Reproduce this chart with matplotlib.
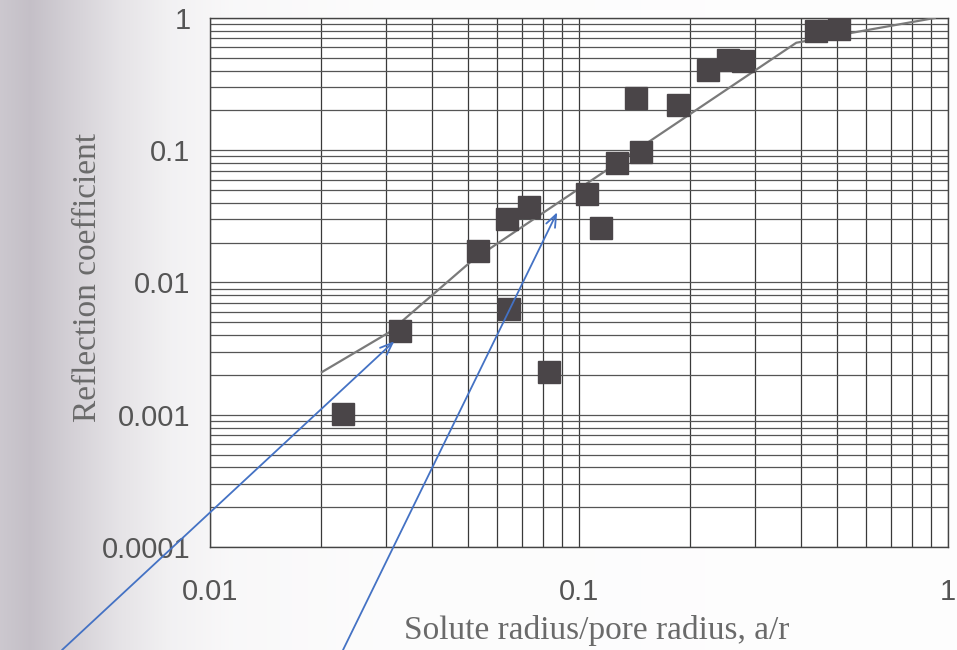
import numpy as np
import matplotlib
matplotlib.use("Agg")
import matplotlib.pyplot as plt
from matplotlib.ticker import LogLocator, NullFormatter, FixedLocator

ratio = [0.023, 0.0328, 0.0533, 0.0639, 0.0647, 0.0733, 0.083, 0.105, 0.115,
         0.127, 0.147, 0.1426, 0.185, 0.223, 0.253, 0.279, 0.44, 0.505]
refl = [0.00102, 0.0043, 0.0172, 0.030, 0.00635, 0.037, 0.0021, 0.047, 0.0257,
        0.080, 0.097, 0.248, 0.219, 0.404, 0.48, 0.47, 0.80, 0.825]

# fitted curve
fit_x = [0.0201, 0.0306, 0.0514, 0.388, 0.92]
fit_y = [0.0021, 0.0042, 0.0147, 0.65, 1.0]

# arrow tips (data) and tails (figure fraction)
tips = [(0.0316, 0.0036), (0.0873, 0.034)]
tails = [(62 / 957, 0.0), (343 / 957, 0.0)]

xticks = [0.01, 0.1, 1]
xtick_labels = ["0.01", "0.1", "1"]
yticks = [0.0001, 0.001, 0.01, 0.1, 1]
ytick_labels = ["0.0001", "0.001", "0.01", "0.1", "1"]

fig = plt.figure(figsize=(9.57, 6.5), dpi=100)

# scanned page shading on the left
bg = fig.add_axes([0, 0, 1, 1], zorder=-5)
px = np.arange(957)
shade = np.interp(px, [0, 30, 70, 120, 170, 230, 400, 957],
                  [0.80, 0.77, 0.83, 0.90, 0.95, 0.975, 0.99, 0.995])
dark = 1 - shade
img = np.dstack([shade, shade - 0.08 * dark, shade + 0.05 * dark])
img = np.clip(np.repeat(img, 2, axis=0), 0, 1)
bg.imshow(img, aspect="auto", extent=[0, 1, 0, 1])
bg.axis("off")

ax = fig.add_axes([0.2194, 0.1585, 0.7712, 0.8138])
ax.set_facecolor("white")
ax.set_xscale("log")
ax.set_yscale("log")
ax.set_xlim(0.01, 1)
ax.set_ylim(0.0001, 1)

ax.xaxis.set_major_locator(FixedLocator(xticks))
ax.set_xticklabels(xtick_labels)
ax.yaxis.set_major_locator(FixedLocator(yticks))
ax.set_yticklabels(ytick_labels)
ax.xaxis.set_minor_locator(LogLocator(base=10, subs=np.arange(2, 10)))
ax.yaxis.set_minor_locator(LogLocator(base=10, subs=np.arange(2, 10)))
ax.xaxis.set_minor_formatter(NullFormatter())
ax.yaxis.set_minor_formatter(NullFormatter())

ax.grid(True, which="both", axis="x", color="#3a3a3a", lw=0.9)
ax.grid(True, which="both", axis="y", color="#555555", lw=0.9)
ax.set_axisbelow(True)
ax.tick_params(which="both", length=0)
ax.tick_params(axis="x", pad=22, labelsize=21, labelcolor="#555555")
ax.tick_params(axis="y", pad=14, labelsize=21, labelcolor="#555555")
for lab in ax.get_xticklabels() + ax.get_yticklabels():
    lab.set_family("Liberation Sans")
for s in ax.spines.values():
    s.set_color("#444444")
    s.set_linewidth(1.0)

ax.plot(fit_x, fit_y, color="#7a7a7a", lw=1.6, zorder=3)
ax.plot(ratio, refl, ls="none", marker="s", ms=15.5, color="#4a4548",
        mec="#4a4548", zorder=4)

ax.set_xlabel("Solute radius/pore radius, a/r", family="Liberation Serif",
              fontsize=24, color="#6a6a6a")
ax.xaxis.label.set_va("center")
ax.xaxis.set_label_coords(0.524, -0.157)
ax.set_ylabel("Reflection coefficient", family="Liberation Serif",
              fontsize=24, color="#6a6a6a")
ax.yaxis.label.set_va("center")
ax.yaxis.set_label_coords(-0.166, 0.51)

for tip, tail in zip(tips, tails):
    ax.annotate("", xy=tip, xycoords="data", xytext=tail, textcoords="figure fraction",
                arrowprops=dict(arrowstyle="->,head_length=0.9,head_width=0.35",
                                color="#4472C4", lw=1.3, shrinkA=0, shrinkB=0),
                annotation_clip=False, zorder=6)

fig.savefig("out.png", dpi=100)
